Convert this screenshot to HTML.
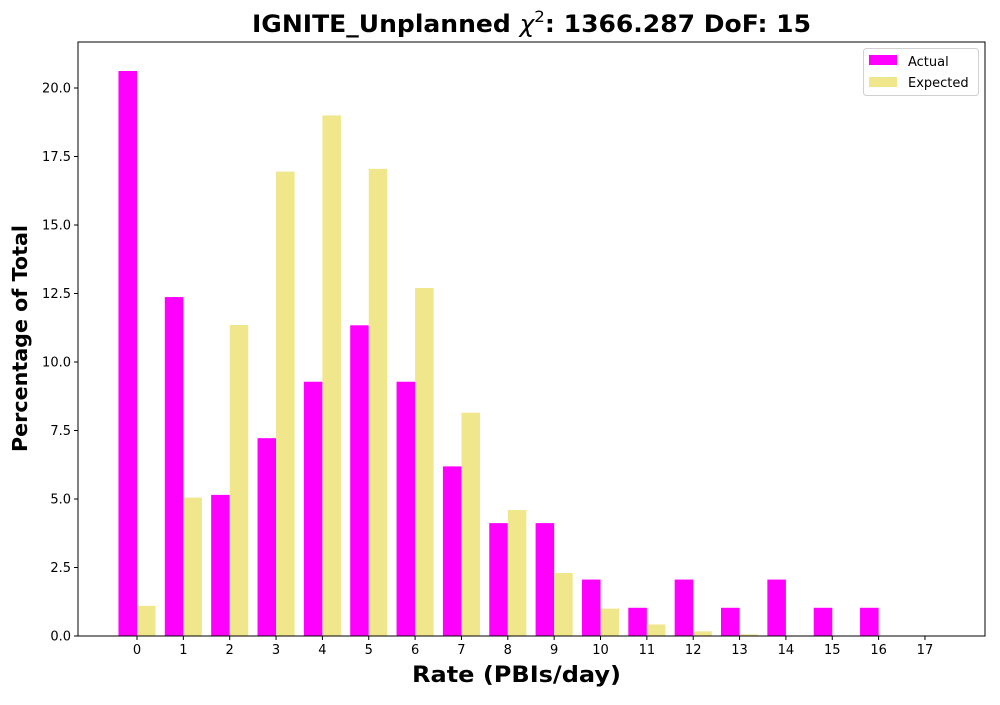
<!DOCTYPE html>
<html><head><meta charset="utf-8"><style>
body{margin:0;background:#fff;font-family:"Liberation Sans","DejaVu Sans",sans-serif;}
</style></head><body>
<svg id="chart" width="1000" height="700" xmlns="http://www.w3.org/2000/svg">
<text x="252" y="32" font-size="24" font-weight="bold" font-family="DejaVu Sans, sans-serif" textLength="559" lengthAdjust="spacingAndGlyphs">IGNITE_Unplanned <tspan font-style="italic" font-weight="normal">χ</tspan><tspan dy="-10" font-size="16" font-weight="normal">2</tspan><tspan dy="10">: 1366.287 DoF: 15</tspan></text>
<g id="bars"></g>
<g id="axes"></g>
<text x="412" y="682" font-size="22" font-weight="bold" font-family="DejaVu Sans, sans-serif" textLength="209" lengthAdjust="spacingAndGlyphs">Rate (PBIs/day)</text>
<text transform="translate(27,452) rotate(-90)" font-size="20" font-weight="bold" font-family="DejaVu Sans, sans-serif" textLength="227" lengthAdjust="spacingAndGlyphs">Percentage of Total</text>
<g>
<rect x="863.5" y="48.5" width="115" height="47" rx="3" fill="#fff" stroke="#d0d0d0"/>
<rect x="869" y="55" width="28" height="10" fill="#ff00ff"/>
<text x="908" y="66" font-size="13" font-family="DejaVu Sans, sans-serif">Actual</text>
<rect x="869" y="77" width="28" height="10" fill="#f0e68c"/>
<text x="908" y="87" font-size="13" font-family="DejaVu Sans, sans-serif">Expected</text>
</g>
</svg>
<script>
const categories=[0,1,2,3,4,5,6,7,8,9,10,11,12,13,14,15,16,17];
const actual=[20.62,12.37,5.15,7.22,9.28,11.34,9.28,6.19,4.12,4.12,2.06,1.03,2.06,1.03,2.06,1.03,1.03,0];
const expected=[1.1,5.05,11.35,16.95,19.0,17.05,12.7,8.15,4.6,2.3,1.0,0.42,0.17,0.06,0.02,0.005,0,0];
const yTicks=[0,2.5,5,7.5,10,12.5,15,17.5,20];
const yTickLabels=["0.0","2.5","5.0","7.5","10.0","12.5","15.0","17.5","20.0"];
const L=78,R=985,T=42,B=636;
const NS="http://www.w3.org/2000/svg";
const x=c=>137+(c-0)*46.35;
const y=v=>B-v*27.4;
const bw=0.4*46.35;
const bars=document.getElementById('bars'),axes=document.getElementById('axes');
function mk(tag,attrs,parent){const e=document.createElementNS(NS,tag);for(const k in attrs)e.setAttribute(k,attrs[k]);parent.appendChild(e);return e;}
categories.forEach((c,i)=>{
  const a=mk('rect',{x:x(c)-bw,y:y(actual[i]),width:bw,height:B-y(actual[i]),fill:'#ff00ff'},bars);
  
  
  const e=mk('rect',{x:x(c),y:y(expected[i]),width:bw,height:B-y(expected[i]),fill:'#f0e68c'},bars);
  
  
  mk('line',{x1:x(c),x2:x(c),y1:B,y2:B+4,stroke:'#000'},axes);
  const t=mk('text',{x:x(c),y:B+18,'text-anchor':'middle','font-size':13,'font-family':'DejaVu Sans, sans-serif'},axes);
  t.textContent=c;
  
  
});
yTicks.forEach((v,i)=>{
  mk('line',{x1:L-4,x2:L,y1:y(v),y2:y(v),stroke:'#000'},axes);
  const t=mk('text',{x:L-7,y:y(v)+4.5,'text-anchor':'end','font-size':13,'font-family':'DejaVu Sans, sans-serif'},axes);
  t.textContent=yTickLabels[i];
  
  
});
const f=mk('rect',{x:L,y:T,width:R-L,height:B-T,fill:'none',stroke:'#000','stroke-width':1},axes);


</script>
</body></html>
